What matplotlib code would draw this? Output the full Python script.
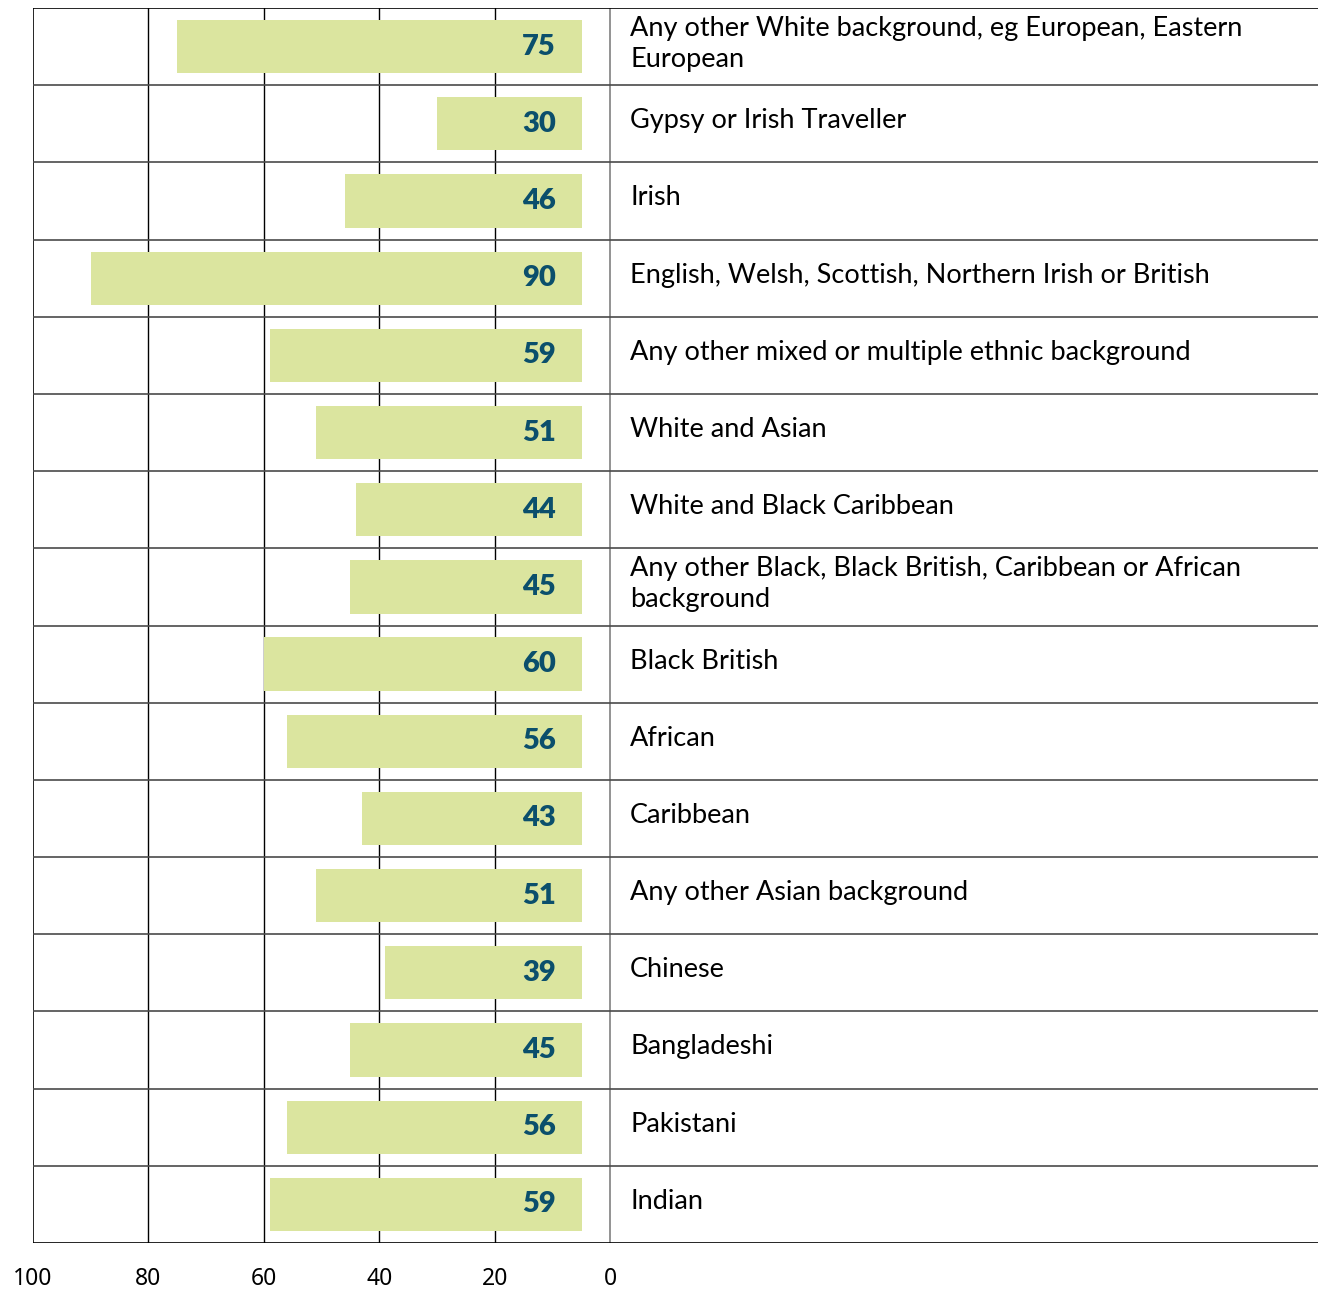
import matplotlib.pyplot as plt

plt.rcParams['font.family'] = ['Lato', 'DejaVu Sans']

groups = [
    "Any other White background, eg European, Eastern\nEuropean",
    "Gypsy or Irish Traveller",
    "Irish",
    "English, Welsh, Scottish, Northern Irish or British",
    "Any other mixed or multiple ethnic background",
    "White and Asian",
    "White and Black Caribbean",
    "Any other Black, Black British, Caribbean or African\nbackground",
    "Black British",
    "African",
    "Caribbean",
    "Any other Asian background",
    "Chinese",
    "Bangladeshi",
    "Pakistani",
    "Indian",
]
values = [75, 30, 46, 90, 59, 51, 44, 45, 60, 56, 43, 51, 39, 45, 56, 59]
ticks = [100, 80, 60, 40, 20, 0]

BAR = '#dbe59f'
NUM = '#0b4f6c'
bar_start = 4.9          # bars sit a little off the zero line
x_right = -122.7         # room for the group names right of zero

fig = plt.figure(figsize=(13.18, 12.89), dpi=100)
ax = fig.add_axes([33 / 1318, 46 / 1289, 1 - 33 / 1318, 1235 / 1289])
ax.set_xlim(100, x_right)
ax.set_ylim(len(groups), 0)

# vertical grid, left border and the zero line
for t in ticks[1:-1]:
    ax.axvline(t, color='black', lw=1, zorder=1)
ax.axvline(100, color='black', lw=1.2, zorder=3)
ax.axvline(0, color='#8a8a8a', lw=1.3, zorder=3)

# row separators
for i in range(len(groups) + 1):
    c = 'black' if i in (0, len(groups)) else '#4a4a4a'
    ax.axhline(i, color=c, lw=1.2, zorder=3)

for i, (g, v) in enumerate(zip(groups, values)):
    y = i + 0.5
    ax.barh(y, v - bar_start, left=bar_start, height=0.69, color=BAR, zorder=2)
    ax.text(9.4, y, str(v), ha='right', va='center', fontsize=21,
            fontweight='heavy', color=NUM, zorder=4)
    ax.text(-3.5, y - 0.04, g, ha='left', va='center', fontsize=19.5,
            color='black', linespacing=1.3, zorder=4)

for s in ax.spines.values():
    s.set_visible(False)
ax.set_yticks([])
ax.set_xticks(ticks)
ax.set_xticklabels([str(t) for t in ticks], family=['Noto Sans', 'DejaVu Sans'])
ax.tick_params(axis='x', length=0, labelsize=16.5, pad=17)

fig.savefig('out.png', dpi=100)
